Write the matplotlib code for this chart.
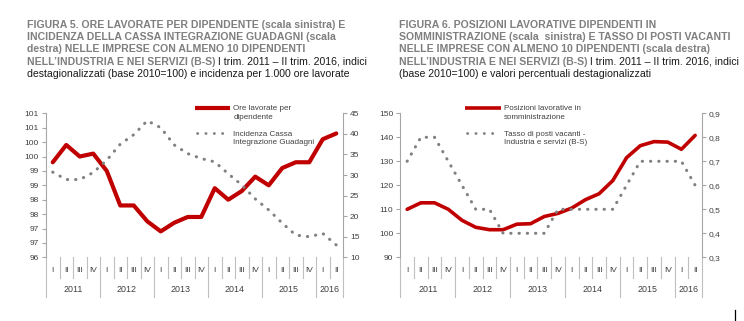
import matplotlib
matplotlib.use("Agg")
import matplotlib.pyplot as plt
import matplotlib.transforms as mtransforms
from matplotlib.lines import Line2D
import numpy as np

# categorie (trimestri I 2011 - II 2016)
quarters = ["I", "II", "III", "IV"] * 5 + ["I", "II"]
years = ["2011", "2012", "2013", "2014", "2015", "2016"]

# Figura 5
ore_lavorate = [99.3, 99.9, 99.5, 99.6, 99.0, 97.8, 97.8, 97.25, 96.9, 97.2, 97.4,
                97.4, 98.4, 98.0, 98.3, 98.8, 98.5, 99.1, 99.3, 99.3, 100.1, 100.3]
cig = [30.7, 28.9, 28.9, 30.6, 33.6, 37.5, 39.8, 43.2, 41.5, 37.3, 35.2,
       34.0, 33.2, 30.3, 27.6, 24.2, 21.5, 18.3, 15.4, 15.0, 15.8, 13.0]
ticks_5l = [96, 96.5, 97, 97.5, 98, 98.5, 99, 99.5, 100, 100.5, 101]
labels_5l = ["96", "97", "97", "98", "98", "99", "99", "100", "100", "101", "101"]
ticks_5r = [10, 15, 20, 25, 30, 35, 40, 45]
labels_5r = ["10", "15", "20", "25", "30", "35", "40", "45"]

# Figura 6
somministrazione = [110, 112.7, 112.7, 110, 105.4, 102.5, 101.5, 101.5, 103.8, 104, 107,
                    108.3, 110.5, 114, 116.5, 122, 131.5, 136.5, 138.2, 138, 135, 140.8]
posti_vacanti = [0.7, 0.8, 0.8, 0.7, 0.6, 0.5, 0.5, 0.4, 0.4, 0.4, 0.4,
                 0.5, 0.5, 0.5, 0.5, 0.5, 0.6, 0.7, 0.7, 0.7, 0.7, 0.6]
ticks_6l = [90, 100, 110, 120, 130, 140, 150]
labels_6l = ["90", "100", "110", "120", "130", "140", "150"]
ticks_6r = [0.3, 0.4, 0.5, 0.6, 0.7, 0.8, 0.9]
labels_6r = ["0,3", "0,4", "0,5", "0,6", "0,7", "0,8", "0,9"]

RED = "#C00000"
GREY = "#808080"
AXC = "#A6A6A6"
TXT = "#404040"
NARROW = ["Liberation Sans Narrow", "Liberation Sans", "DejaVu Sans"]
REG = ["Liberation Sans", "DejaVu Sans"]

fig = plt.figure(figsize=(7.44, 3.21), dpi=100)


def panel(rect, left_vals, right_vals, tl, ll, tr, lr, lw_red, leg_x, leg1, leg2):
    ax = fig.add_axes(rect)
    x = np.arange(len(quarters))
    ax.plot(x, left_vals, color=RED, lw=lw_red, solid_joinstyle="round",
            solid_capstyle="round", zorder=3)
    ax.set_xlim(-0.5, len(quarters) - 0.5)
    ax.set_ylim(tl[0], tl[-1])
    ax.set_yticks(tl)
    ax.set_yticklabels(ll, fontfamily=REG)
    ax.set_xticks([])
    ax2 = ax.twinx()
    ax2.plot(x, right_vals, color=GREY, lw=2.2, linestyle=(0, (0.1, 2.6)),
             dash_capstyle="round", zorder=4)
    ax2.set_ylim(tr[0], tr[-1])
    ax2.set_yticks(tr)
    ax2.set_yticklabels(lr, fontfamily=REG)
    for a in (ax, ax2):
        for s in ("top", "bottom"):
            a.spines[s].set_visible(False)
        a.spines["left"].set_color(AXC)
        a.spines["right"].set_color(AXC)
        a.tick_params(axis="y", direction="out", length=3, width=0.8, color=AXC,
                      labelsize=6.0, labelcolor=TXT, pad=2)
    ax.spines["right"].set_visible(False)
    ax2.spines["left"].set_visible(False)

    # asse categorie: trimestri e anni
    tr_b = mtransforms.blended_transform_factory(ax.transData, ax.transAxes)
    for i, q in enumerate(quarters):
        ax.text(i, -0.09, q, transform=tr_b, ha="center", va="center",
                fontsize=6.0, color=TXT, fontfamily=REG)
    for b in range(len(quarters) + 1):
        long_line = b % 4 == 0 or b == len(quarters)
        y0 = -0.278 if long_line else -0.146
        ax.plot([b - 0.5, b - 0.5], [0, y0], transform=tr_b, color="#BFBFBF",
                lw=0.8, clip_on=False)
    for k, yr in enumerate(years):
        start = 4 * k
        end = min(4 * k + 4, len(quarters))
        ax.text((start + end - 1) / 2, -0.225, yr, transform=tr_b, ha="center",
                va="center", fontsize=6.4, color=TXT, fontfamily=REG)

    # legenda
    ax.plot([leg_x, leg_x + 0.118], [1.039, 1.039], transform=ax.transAxes,
            color=RED, lw=lw_red, clip_on=False, solid_capstyle="butt")
    ax.text(leg_x + 0.129, 1.002, leg1, transform=ax.transAxes, ha="left",
            va="center", fontsize=5.8, color=TXT, fontfamily=NARROW, linespacing=1.3)
    ax2.plot([leg_x + 0.005, leg_x + 0.113], [0.863, 0.863], transform=ax.transAxes,
             color=GREY, lw=2.0, linestyle=(0, (0.1, 2.9)), dash_capstyle="round",
             clip_on=False)
    ax2.text(leg_x + 0.129, 0.825, leg2, transform=ax.transAxes, ha="left",
             va="center", fontsize=5.8, color=TXT, fontfamily=NARROW, linespacing=1.3)
    return ax


panel([46 / 744, 63.7 / 321, 297 / 744, 144 / 321], ore_lavorate, cig,
      ticks_5l, labels_5l, ticks_5r, labels_5r, 3.0, 0.502,
      "Ore lavorate per\ndipendente", "Incidenza Cassa\nIntegrazione Guadagni")
panel([400.3 / 744, 63.7 / 321, 301.7 / 744, 144 / 321], somministrazione, posti_vacanti,
      ticks_6l, labels_6l, ticks_6r, labels_6r, 2.6, 0.215,
      "Posizioni lavorative in\nsomministrazione", "Tasso di posti vacanti -\nIndustria e servizi (B-S)")

# titoli
title5 = [("FIGURA 5. ORE LAVORATE PER DIPENDENTE (scala sinistra) E", ""),
          ("INCIDENZA DELLA CASSA INTEGRAZIONE GUADAGNI (scala", ""),
          ("destra) NELLE IMPRESE CON ALMENO 10 DIPENDENTI", ""),
          ("NELL’INDUSTRIA E NEI SERVIZI (B-S)", " I trim. 2011 – II trim. 2016, indici"),
          ("", "destagionalizzati (base 2010=100) e incidenza per 1.000 ore lavorate")]
title6 = [("FIGURA 6. POSIZIONI LAVORATIVE DIPENDENTI IN", ""),
          ("SOMMINISTRAZIONE (scala  sinistra) E TASSO DI POSTI VACANTI", ""),
          ("NELLE IMPRESE CON ALMENO 10 DIPENDENTI (scala destra)", ""),
          ("NELL’INDUSTRIA E NEI SERVIZI (B-S)", " I trim. 2011 – II trim. 2016, indici"),
          ("", "(base 2010=100) e valori percentuali destagionalizzati")]
baselines = [28, 40.3, 52.5, 64.7, 77]

pending = []
for x0, lines in ((26.7, title5), (398.7, title6)):
    for yb, (bold, normal) in zip(baselines, lines):
        y = 1 - yb / 321
        t = None
        if bold:
            t = fig.text(x0 / 744, y, bold, ha="left", va="baseline", fontsize=7.55,
                         fontweight="bold", color="#7F7F7F", fontfamily=NARROW)
        if normal:
            pending.append((t, x0, y, normal))

fig.canvas.draw()
r = fig.canvas.get_renderer()
for t, x0, y, normal in pending:
    xs = x0 / 744 if t is None else t.get_window_extent(r).x1 / fig.bbox.width
    fig.text(xs, y, normal, ha="left", va="baseline", fontsize=7.55,
             color="#1A1A1A", fontfamily=NARROW)

fig.add_artist(Line2D([735 / 744, 735 / 744], [0, 11 / 321], color="black", lw=0.9))

fig.savefig("out.png", dpi=100)
